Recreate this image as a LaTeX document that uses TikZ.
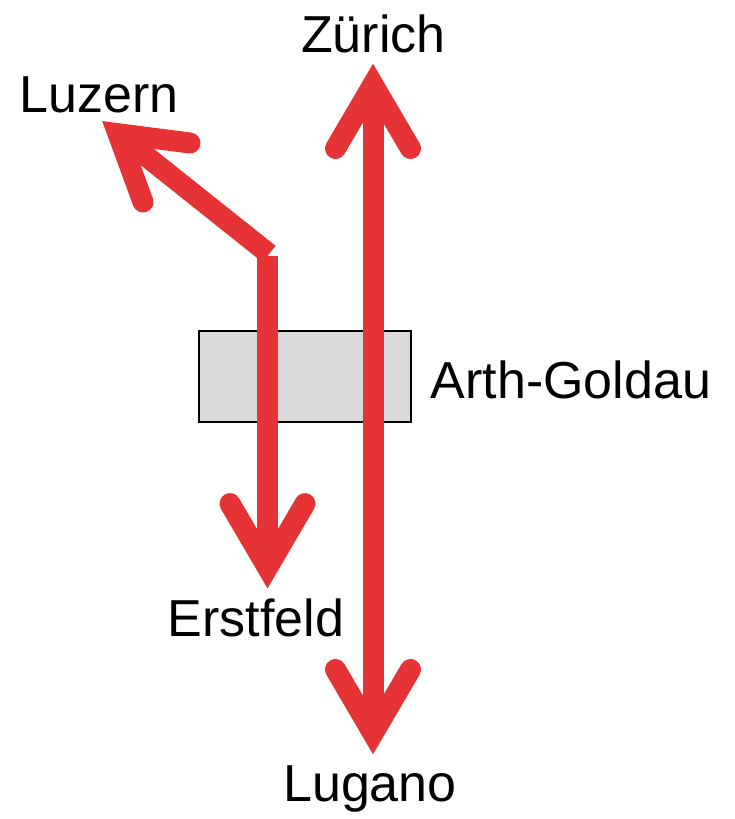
\documentclass[tikz,border=0pt]{standalone}
\usepackage{fontspec}
\setmainfont{Liberation Sans}
\definecolor{trackred}{HTML}{E63336}
\definecolor{boxgray}{HTML}{D9D9D9}
\begin{document}
\begin{tikzpicture}[x=1pt,y=-1pt,
  shaft/.style={draw=trackred,line width=21pt,line cap=butt},
  head/.style={draw=trackred,line width=21pt,line cap=round,line join=miter},
  station/.style={rectangle,draw=black,fill=boxgray,line width=2pt,minimum width=212pt,minimum height=91pt,inner sep=0pt},
  lbl/.style={inner sep=0pt,anchor=base,font=\fontsize{52}{60}\selectfont}]
\useasboundingbox (0,0) rectangle (734,819);
\node[station] (ag) at (305,376.5) {};
% coordinates
\coordinate (zv) at (373,84.5);
\coordinate (zl) at (335.5,148.5);
\coordinate (zr) at (410.5,148.5);
\coordinate (lv) at (373,733.5);
\coordinate (ll) at (335.5,669.5);
\coordinate (lr) at (410.5,669.5);
\coordinate (ev) at (267.5,567.6);
\coordinate (el) at (230,503.6);
\coordinate (er) at (305,503.6);
\coordinate (etop) at (267.5,256);
\coordinate (cv) at (118,133.7);
\coordinate (cl) at (190,143);
\coordinate (cr) at (143,202);
\coordinate (cstart) at (269,254);
% lines
\draw[shaft] (zv) -- (lv);
\draw[head] (zl) -- (zv) -- (zr);
\draw[head] (ll) -- (lv) -- (lr);
\draw[shaft] (cstart) -- (cv);
\draw[head] (cl) -- (cv) -- (cr);
\draw[shaft] (etop) -- (ev);
\draw[head] (el) -- (ev) -- (er);
% labels
\node[lbl] (zurich) at (373.4,52.7) {Zürich};
\node[lbl] (luzern) at (99,112.7) {Luzern};
\node[lbl] (arth) at (571,398.3) {Arth-Goldau};
\node[lbl] (erstfeld) at (256,636.7) {Erstfeld};
\node[lbl] (lugano) at (370,801.7) {Lugano};
\end{tikzpicture}
\end{document}
